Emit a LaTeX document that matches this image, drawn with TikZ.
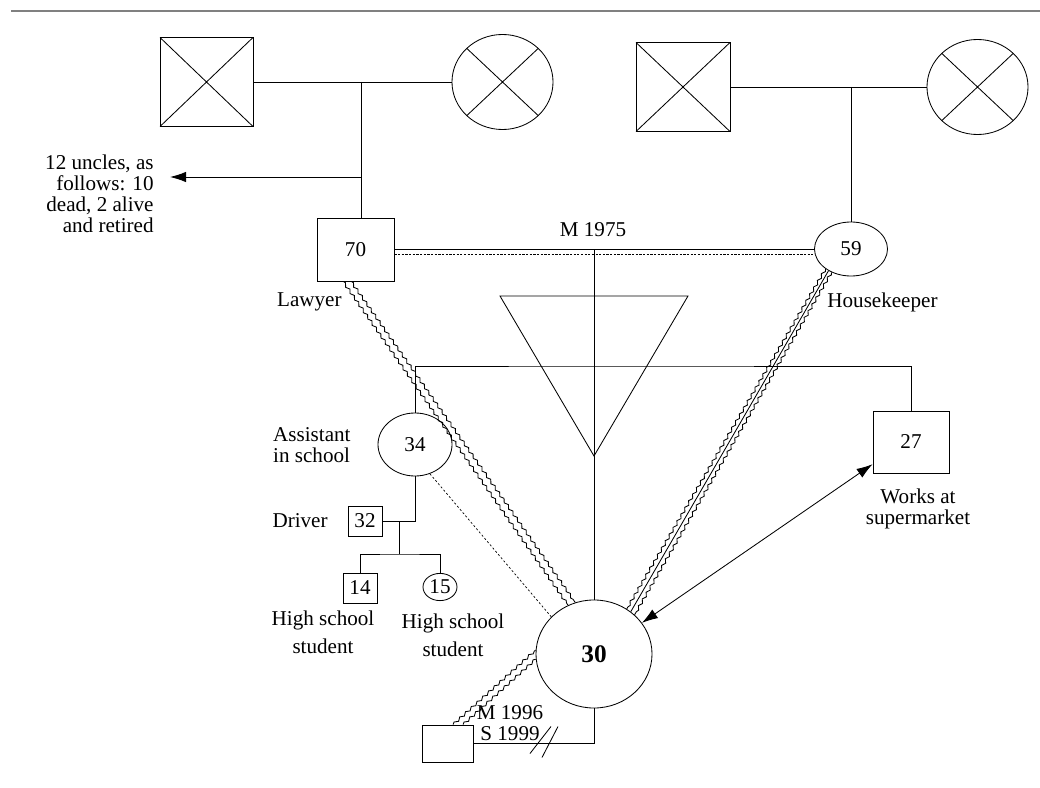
\documentclass[tikz,border=0pt]{standalone}
\usepackage{fontspec}
\setmainfont{Liberation Serif}
\usetikzlibrary{arrows.meta,shapes.geometric,decorations.pathmorphing}

\begin{document}
\begin{tikzpicture}[x=0.025cm, y=-0.025cm, line width=0.6pt,
  >={Latex[length=4mm, width=2.6mm]},
  every node/.style={font=\fontsize{15}{15}\selectfont},
  male/.style={draw, rectangle, inner sep=0pt},
  female/.style={draw, ellipse, inner sep=0pt},
  dead/.style={path picture={
    \draw (path picture bounding box.north west) -- (path picture bounding box.south east)
          (path picture bounding box.south west) -- (path picture bounding box.north east);}},
  wavy/.style={decorate, decoration={snake, amplitude=0.9pt, segment length=5.5pt}},
  marr/.style={dash pattern=on 1.6pt off 1pt, line width=0.5pt},
  lbl/.style={inner sep=0pt, align=center}]

  \useasboundingbox (0,0) rectangle (1040,788);

  % Rule at the top
  \draw[gray, line width=1pt] (11,11) -- (1040,11);

  % Grandparents
  \node[male, dead, minimum width=2.325cm, minimum height=2.225cm] (gfa) at (206.5,82) {};
  \node[female, dead, minimum width=2.525cm, minimum height=2.375cm] (gma) at (502.5,82) {};
  \node[male, dead, minimum width=2.35cm, minimum height=2.225cm] (gfb) at (683,87) {};
  \node[female, dead, minimum width=2.525cm, minimum height=2.375cm] (gmb) at (977.5,87) {};
  \draw (gfa.east) -- (gma.west);
  \draw (gfb.east) -- (gmb.west);

  % Parents
  \node[male, minimum width=1.925cm, minimum height=1.575cm] (fa) at (355.5,249.5) {70};
  \node[female, minimum width=1.825cm, minimum height=1.35cm] (mo) at (851,249) {59};
  \coordinate (mf) at (361,82);
  \draw (mf) -- (mf |- fa.north);
  \draw (gfb.east -| mo.north) -- (mo.north);

  % Uncles
  \node[lbl, align=right, anchor=east] (uncles) at (154,193.5)
    {12 uncles, as\\follows: 10\\dead, 2 alive\\and retired};
  \coordinate (mu) at (361,177);
  \draw[->, shorten >=0.4cm] (mu) -- (uncles.east |- mu);

  % Marriage 1975
  \draw (fa.east) -- (fa.east -| mo.west);
  \coordinate (d1) at ([yshift=-0.13cm]fa.east);
  \draw[marr] (d1) -- (d1 -| mo.west);
  \node[lbl] (m75) at (593,230) {M 1975};

  % Children
  \node[female, minimum width=1.85cm, minimum height=1.575cm] (sib) at (415,444.5) {34};
  \node[male, minimum width=1.9cm, minimum height=1.55cm] (bro) at (911,442) {27};
  \node[female, minimum width=2.9cm, minimum height=2.7cm,
        font=\fontsize{18}{18}\selectfont\bfseries] (me) at (594,654) {30};
  \coordinate (sibl) at (600,366);
  \draw (sib.north) |- (sibl) -| (bro.north);
  \draw (fa.east -| me.north) -- (me.north);
  \draw (500,296) -- (688,296) -- (594,456) -- cycle;

  % Sister's family
  \node[male, minimum width=0.85cm, minimum height=0.75cm] (bil) at (365,521) {32};
  \node[male, minimum width=0.85cm, minimum height=0.75cm] (n1) at (360,588) {14};
  \node[female, minimum width=0.85cm, minimum height=0.68cm] (n2) at (440,587) {15};
  \draw (sib.south) |- (bil.east);
  \coordinate (kids) at (399,554);
  \draw (kids |- bil.east) -- (kids);
  \draw (n1.north) |- (kids) -| (n2.north);

  % Spouse
  \node[male, minimum width=1.275cm, minimum height=0.925cm] (sp) at (447.5,743.5) {};
  \draw (sp.east) -| (me.south);
  \coordinate (div) at (544,743.5);
  \draw (div) ++(-14,10) -- ++(21,-27);
  \draw (div) ++(-2,14) -- ++(16,-31);
  \node[lbl] (m96) at (510,723.5) {M 1996\\S 1999};

  % Relationship lines
  \draw[wavy] ([xshift=-0.31cm]fa.south) -- (me.118);
  \draw[wavy] ([xshift=-0.11cm]fa.south) -- (me.110);
  \draw[wavy] (mo.-142) -- (me.54.5);
  \draw (mo.-136) -- (me.49.5);
  \draw[wavy] (mo.-130) -- (me.44.5);
  \draw[wavy] ([xshift=0.14cm]sp.north) -- (me.176);
  \draw[wavy] ([xshift=0.39cm]sp.north) -- (me.185);
  \draw[dash pattern=on 1.5pt off 1.5pt, line width=0.5pt] (sib.-63) -- (me.139);
  \draw[<->] (me.33) -- (bro.-150);

  % Labels
  \node[lbl, anchor=east] (lawyer) at (342,302) {Lawyer};
  \node[lbl, anchor=west] (hk) at (827,302) {Housekeeper};
  \node[lbl, align=left, anchor=east] (assist) at (351,445.5) {Assistant\\in school};
  \node[lbl, anchor=east] (driver) at (328,521) {Driver};
  \node[lbl] (hs1) at (323,632) {High school\\[5pt]student};
  \node[lbl] (hs2) at (453,635) {High school\\[5pt]student};
  \node[lbl] (works) at (918,509) {Works at\\supermarket};

\end{tikzpicture}
\end{document}
